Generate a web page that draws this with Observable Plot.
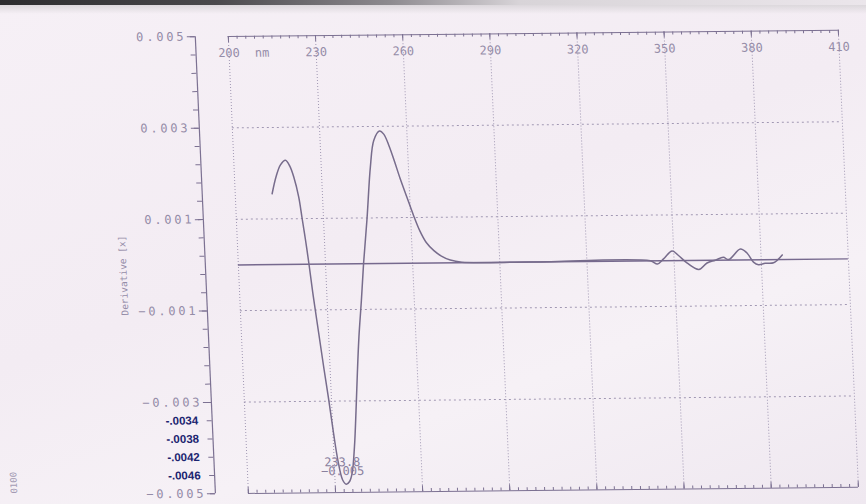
<!DOCTYPE html>
<html>
<head>
<meta charset="utf-8">
<script src="https://cdn.jsdelivr.net/npm/d3@7"></script>
<script src="https://cdn.jsdelivr.net/npm/@observablehq/plot@0.6"></script>
<style>
  html, body { margin: 0; padding: 0; }
  body { width: 866px; height: 504px; overflow: hidden; position: relative;
         background: linear-gradient(160deg, #f6f0f6 0%, #f3ecf3 45%, #f6f1f6 70%, #efe8f0 100%); }
  #chart { position: absolute; left: 0; top: 0; }
  #chart svg { transform-origin: 533px 265px; transform: matrix(1, -0.01, 0.044, 1, 0, 0); }
  #band1 { position: absolute; left: 0; top: 0; width: 866px; height: 5px;
           background: linear-gradient(to right, #2c2c2e 0%, #4a494c 25%, #8d8a8f 45%, #d8d4d8 60%, #ebe6eb 100%); }
  #band2 { position: absolute; left: 0; top: 5px; width: 866px; height: 9px;
           background: linear-gradient(to bottom, #dcd8dc, rgba(240,234,240,0)); }
  g[aria-label="y-axis tick label"] text, g[aria-label="top labels"] text, g[aria-label="minimum label"] text { letter-spacing: 2.8px; }
  g[aria-label="handwritten"] text { letter-spacing: 2.4px; }
</style>
</head>
<body>
<div id="chart"></div>
<div id="band1"></div>
<div id="band2"></div>
<script>
// ---- data ----
const wavelength = [212.7, 214.3, 216.0, 217.8, 219.2, 220.4, 221.8, 222.6, 223.5, 224.3, 225.3,
  226.6, 227.9, 229.1, 230.2, 231.3, 232.6, 233.8, 235.0, 236.0, 237.2, 238.3, 239.3, 240.4,
  241.8, 243.1, 245.0, 246.9, 248.5, 250.6, 252.0, 253.6, 255.2, 257.0, 259.0, 261.0, 263.0, 265.0,
  267.5, 270.0, 273.0, 277.0, 300.0, 341.8, 344.2, 346.4, 349.5, 351.6, 354.5, 358.4, 361.3, 364.2,
  367.0, 368.8, 373.0, 375.2, 377.3, 379.0, 381.3, 384.2, 387.3];
const derivative = [0.00155, 0.00192, 0.00218, 0.00228, 0.00215, 0.00191, 0.00147, 0.00103, 0.00052, 0.00001, -0.0007,
  -0.0015, -0.0023, -0.0030, -0.0037, -0.0043, -0.00472, -0.00482, -0.00476, -0.00458, -0.0040, -0.0032, -0.0024, -0.0016,
  -0.0008, 0.0, 0.0010, 0.00211, 0.0027, 0.0029, 0.00283, 0.00258, 0.00225, 0.00185, 0.00145, 0.00105, 0.00070, 0.00045,
  0.00027, 0.00015, 0.00006, 0.00001, 0.0, 0.0, -0.00007, 0.00004, 0.00021, 0.00011, -0.00006, -0.00020, -0.00006, 0.0,
  0.00006, 0.00001, 0.00024, 0.00015, -0.00005, -0.00011, -0.00008, -0.00007, 0.00010];

const xTicks = [200, 230, 260, 290, 320, 350, 380, 410];
const xMinorTicks = d3.range(200, 411, 3);
const yTicks = [0.005, 0.003, 0.001, -0.001, -0.003, -0.005];
const yMinorTicks = d3.range(-0.005, 0.00501, 0.0004);
const yGrid = [0.003, 0.001, -0.001, -0.003];
const handwritten = [-0.0034, -0.0038, -0.0042, -0.0046];
const handwrittenLabels = ["-.0034", "-.0038", "-.0042", "-.0046"];
const xUnit = "nm";
const yLabel = "Derivative [x]";
const cornerNote = "0100";

const xDomain = [188.64, 410];
const yDomain = [-0.005, 0.005];

const spectrum = wavelength.map((w, i) => ({w, d: derivative[i]}));
const minPoint = spectrum.reduce((a, b) => (b.d < a.d ? b : a));

const ink = "#7c7192";
const print = "#958ca8";
const grid = "#a198b3";
const pen = "#1b2470";

const chart = Plot.plot({
  width: 866,
  height: 504,
  marginLeft: 205,
  marginRight: 18,
  marginTop: 33,
  marginBottom: 14,
  style: {background: "transparent", color: print, fontFamily: "'DejaVu Sans Mono', monospace", fontSize: "12px"},
  x: {domain: xDomain, axis: null, label: null},
  y: {domain: yDomain, label: null},
  marks: [
    // dotted grid
    Plot.ruleX(xTicks, {y1: yDomain[0], y2: yDomain[1], stroke: grid, strokeWidth: 1, strokeDasharray: "1,2"}),
    Plot.ruleY(yGrid, {x1: 200, x2: 410, stroke: grid, strokeWidth: 1, strokeDasharray: "2,3"}),
    // frame lines
    Plot.ruleY([yDomain[1], yDomain[0]], {x1: 200, x2: 410, stroke: ink, strokeWidth: 1}),
    Plot.ruleX([xDomain[0]], {y1: yDomain[0], y2: yDomain[1], stroke: ink, strokeWidth: 1.2}),
    // top ticks (pointing down) and bottom ticks (pointing up)
    Plot.tickX(xMinorTicks, {x: d => d, stroke: ink, insetBottom: 457 - 3}),
    Plot.tickX(xTicks, {x: d => d, stroke: ink, insetBottom: 457 - 6}),
    Plot.tickX(xMinorTicks, {x: d => d, stroke: ink, insetTop: 457 - 3}),
    Plot.tickX(xTicks, {x: d => d, stroke: ink, insetTop: 457 - 6}),
    // left axis
    Plot.axisY({anchor: "left", ticks: yMinorTicks, tickSize: 5, tickFormat: () => "", stroke: ink, label: null}),
    Plot.axisY({anchor: "left", ticks: yTicks, tickSize: 8, tickPadding: 1, tickFormat: d3.format(".3f"),
      stroke: ink, fill: print, label: null}),
    // top labels
    Plot.text(xTicks, {x: d => d, frameAnchor: "top", dy: 12, text: d => String(d), fill: print, ariaLabel: "top labels"}),
    Plot.text([xUnit], {x: 200, frameAnchor: "top", dy: 12, dx: 33, text: d => d, fill: print, ariaLabel: "top labels"}),
    // y label
    Plot.text([yLabel], {frameAnchor: "left", textAnchor: "middle", dx: -82, dy: 9.5, rotate: -90, text: d => d, fill: print, fontSize: 9.5}),
    // zero baseline
    Plot.ruleY([0], {x1: 200, x2: 410, stroke: "#76698e", strokeWidth: 1.4}),
    // spectrum
    Plot.line(spectrum, {x: "w", y: "d", curve: "catmull-rom", stroke: "#776c8c", strokeWidth: 1.5}),
    // minimum annotation
    Plot.text([minPoint], {x: "w", y: "d", dx: -3, dy: -22, text: d => d3.format(".1f")(d.w), fill: "#8a809e", ariaLabel: "minimum label"}),
    Plot.text([minPoint], {x: "w", y: "d", dx: -3, dy: -13, text: d => d3.format(".3f")(d.d), fill: "#8a809e", ariaLabel: "minimum label"}),
    // handwritten minor tick values
    Plot.text(handwritten, {x: xDomain[0], y: d => d, dx: -14, text: (d, i) => handwrittenLabels[i], textAnchor: "end",
      fill: pen, fontFamily: "'Liberation Sans', sans-serif", fontWeight: "bold", fontSize: 11.5, ariaLabel: "handwritten"}),
    // corner note
    Plot.text([cornerNote], {frameAnchor: "bottom-left", textAnchor: "middle", dx: -198, dy: -13, rotate: -90, text: d => d, fill: "#a49bb4", fontSize: 9})
  ]
});
document.getElementById("chart").appendChild(chart);
</script>
</body>
</html>
